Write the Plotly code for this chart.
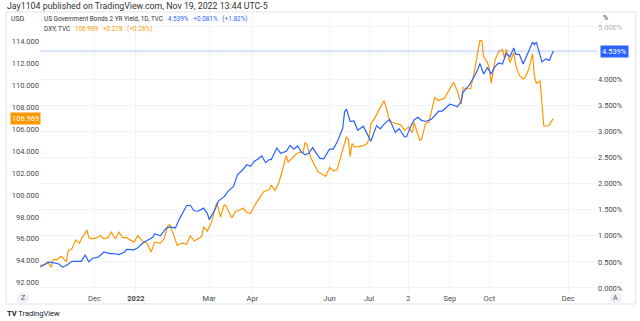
import pandas as pd
import plotly.graph_objects as go

# ---------------- data ----------------
yield_dates = [
    "2021-10-20", "2021-10-22", "2021-10-25", "2021-10-27", "2021-11-01", "2021-11-03", "2021-11-05",
    "2021-11-09", "2021-11-12", "2021-11-16", "2021-11-19", "2021-11-23", "2021-11-26", "2021-11-30",
    "2021-12-03", "2021-12-08", "2021-12-13", "2021-12-15", "2021-12-20", "2021-12-23", "2021-12-27",
    "2021-12-31", "2022-01-04", "2022-01-07", "2022-01-11", "2022-01-14", "2022-01-18", "2022-01-21",
    "2022-01-26", "2022-01-28", "2022-02-02", "2022-02-04", "2022-02-10", "2022-02-14", "2022-02-16",
    "2022-02-18", "2022-02-24", "2022-02-28", "2022-03-01", "2022-03-04", "2022-03-08", "2022-03-11",
    "2022-03-15", "2022-03-18", "2022-03-22", "2022-03-25", "2022-03-29", "2022-03-31", "2022-04-04",
    "2022-04-06", "2022-04-08", "2022-04-12", "2022-04-14", "2022-04-18", "2022-04-21", "2022-04-25",
    "2022-04-28", "2022-05-02", "2022-05-04", "2022-05-06", "2022-05-10", "2022-05-12", "2022-05-16",
    "2022-05-18", "2022-05-20", "2022-05-24", "2022-05-26", "2022-06-01", "2022-06-03", "2022-06-07",
    "2022-06-10", "2022-06-13", "2022-06-14", "2022-06-16", "2022-06-21", "2022-06-23", "2022-06-28",
    "2022-06-30", "2022-07-05", "2022-07-08", "2022-07-12", "2022-07-14", "2022-07-19", "2022-07-22",
    "2022-07-26", "2022-07-29", "2022-08-01", "2022-08-03", "2022-08-05", "2022-08-09", "2022-08-11",
    "2022-08-15", "2022-08-18", "2022-08-22", "2022-08-24", "2022-08-26", "2022-08-30", "2022-09-01",
    "2022-09-06", "2022-09-08", "2022-09-12", "2022-09-13", "2022-09-16", "2022-09-21", "2022-09-23",
    "2022-09-26", "2022-09-28", "2022-09-30", "2022-10-04", "2022-10-06", "2022-10-10", "2022-10-12",
    "2022-10-14", "2022-10-18", "2022-10-20", "2022-10-21", "2022-10-25", "2022-10-27", "2022-11-01",
    "2022-11-03", "2022-11-04", "2022-11-07", "2022-11-10", "2022-11-14", "2022-11-16", "2022-11-18",
]
yield_vals = [
    0.40, 0.45, 0.46, 0.50, 0.47, 0.46, 0.40,
    0.43, 0.51, 0.51, 0.51, 0.63, 0.50, 0.57,
    0.59, 0.69, 0.66, 0.66, 0.64, 0.69, 0.74,
    0.73, 0.77, 0.87, 0.91, 0.97, 1.04, 1.00,
    1.14, 1.17, 1.15, 1.31, 1.58, 1.58, 1.48,
    1.47, 1.53, 1.43, 1.31, 1.50, 1.67, 1.75,
    1.85, 1.95, 2.17, 2.27, 2.36, 2.33, 2.43,
    2.47, 2.53, 2.40, 2.46, 2.46, 2.68, 2.58,
    2.62, 2.73, 2.66, 2.72, 2.61, 2.55, 2.58,
    2.69, 2.58, 2.48, 2.48, 2.66, 2.66, 2.79,
    3.06, 3.37, 3.43, 3.19, 3.20, 3.02, 3.10,
    2.95, 2.81, 3.11, 3.05, 3.14, 3.23, 2.98,
    3.05, 2.89, 2.90, 3.08, 3.22, 3.27, 3.21,
    3.19, 3.23, 3.30, 3.39, 3.39, 3.46, 3.52,
    3.50, 3.47, 3.57, 3.75, 3.87, 4.05, 4.20,
    4.30, 4.10, 4.22, 4.10, 4.24, 4.31, 4.29,
    4.49, 4.43, 4.60, 4.48, 4.47, 4.29, 4.54,
    4.71, 4.66, 4.71, 4.33, 4.39, 4.36, 4.539,
]

dxy_dates = [
    "2021-10-20", "2021-10-22", "2021-10-26", "2021-10-28", "2021-10-29", "2021-11-02", "2021-11-04",
    "2021-11-05", "2021-11-09", "2021-11-10", "2021-11-12", "2021-11-16", "2021-11-18", "2021-11-19",
    "2021-11-23", "2021-11-24", "2021-11-26", "2021-11-30", "2021-12-02", "2021-12-06", "2021-12-08",
    "2021-12-10", "2021-12-14", "2021-12-16", "2021-12-20", "2021-12-22", "2021-12-27", "2021-12-31",
    "2022-01-04", "2022-01-07", "2022-01-11", "2022-01-13", "2022-01-14", "2022-01-18", "2022-01-21",
    "2022-01-25", "2022-01-27", "2022-01-28", "2022-02-01", "2022-02-03", "2022-02-04", "2022-02-08",
    "2022-02-10", "2022-02-14", "2022-02-16", "2022-02-18", "2022-02-23", "2022-02-24", "2022-02-28",
    "2022-03-02", "2022-03-04", "2022-03-07", "2022-03-09", "2022-03-11", "2022-03-14", "2022-03-17",
    "2022-03-21", "2022-03-23", "2022-03-25", "2022-03-29", "2022-03-31", "2022-04-04", "2022-04-07",
    "2022-04-11", "2022-04-14", "2022-04-18", "2022-04-20", "2022-04-22", "2022-04-26", "2022-04-28",
    "2022-04-29", "2022-05-03", "2022-05-05", "2022-05-09", "2022-05-11", "2022-05-12", "2022-05-13",
    "2022-05-17", "2022-05-19", "2022-05-23", "2022-05-26", "2022-05-27", "2022-06-01", "2022-06-03",
    "2022-06-07", "2022-06-10", "2022-06-14", "2022-06-15", "2022-06-16", "2022-06-17", "2022-06-21",
    "2022-06-23", "2022-06-28", "2022-06-30", "2022-07-01", "2022-07-05", "2022-07-07", "2022-07-12",
    "2022-07-14", "2022-07-15", "2022-07-19", "2022-07-21", "2022-07-25", "2022-07-27", "2022-07-29",
    "2022-08-02", "2022-08-04", "2022-08-05", "2022-08-10", "2022-08-11", "2022-08-15", "2022-08-17",
    "2022-08-19", "2022-08-22", "2022-08-24", "2022-08-26", "2022-08-29", "2022-09-01", "2022-09-06",
    "2022-09-08", "2022-09-12", "2022-09-13", "2022-09-15", "2022-09-19", "2022-09-21", "2022-09-23",
    "2022-09-26", "2022-09-27", "2022-09-28", "2022-09-30", "2022-10-03", "2022-10-04", "2022-10-06",
    "2022-10-10", "2022-10-12", "2022-10-13", "2022-10-14", "2022-10-18", "2022-10-20", "2022-10-21",
    "2022-10-25", "2022-10-27", "2022-10-28", "2022-11-01", "2022-11-03", "2022-11-04", "2022-11-07",
    "2022-11-09", "2022-11-10", "2022-11-11", "2022-11-15", "2022-11-16", "2022-11-17", "2022-11-18",
]
dxy_vals = [
    93.6, 93.6, 93.9, 93.4, 94.1, 94.1, 94.4,
    94.3, 93.9, 94.9, 95.1, 95.9, 95.6, 96.0,
    96.5, 96.8, 96.1, 96.0, 96.1, 96.3, 96.0,
    96.1, 96.6, 96.0, 96.6, 96.1, 96.1, 95.7,
    96.3, 95.7, 95.6, 94.8, 95.2, 95.7, 95.6,
    96.0, 97.2, 97.3, 96.4, 95.4, 95.5, 95.6,
    95.5, 96.3, 95.8, 96.0, 96.2, 97.1, 96.7,
    97.4, 98.6, 99.3, 98.0, 99.1, 99.0, 97.9,
    98.5, 98.6, 98.8, 98.4, 98.3, 99.0, 99.8,
    100.3, 100.5, 100.9, 100.4, 101.1, 102.3, 103.6,
    103.0, 103.4, 103.7, 103.9, 103.9, 104.8, 104.6,
    103.4, 102.8, 102.1, 101.8, 101.7, 102.5, 102.2,
    102.3, 104.2, 105.3, 105.1, 103.5, 104.7, 104.4,
    104.4, 104.5, 104.7, 105.1, 106.5, 107.0, 108.0,
    108.6, 108.1, 106.7, 106.6, 106.5, 106.4, 105.9,
    106.2, 105.7, 106.6, 105.0, 105.1, 106.5, 106.7,
    108.2, 108.9, 108.6, 108.8, 108.8, 109.7, 110.3,
    109.5, 108.3, 109.8, 109.7, 109.7, 111.2, 113.2,
    114.1, 114.1, 112.6, 112.1, 111.6, 110.2, 112.3,
    113.1, 113.3, 112.5, 113.3, 112.1, 113.0, 111.9,
    110.9, 110.6, 110.7, 111.5, 112.9, 110.8, 110.2,
    110.4, 108.2, 106.3, 106.3, 106.4, 106.7, 106.969,
]

holidays = ["2021-11-25", "2021-12-24", "2022-01-17", "2022-02-21", "2022-04-15",
            "2022-05-30", "2022-06-20", "2022-07-04", "2022-09-05", "2022-11-24"]

tick_dates = ["2021-12-01", "2022-01-03", "2022-03-01", "2022-04-01", "2022-06-01",
              "2022-07-01", "2022-08-02", "2022-09-01", "2022-10-03", "2022-12-01"]
tick_labels = ["Dec", "<b>2022</b>", "Mar", "Apr", "Jun", "Jul", "2", "Sep", "Oct", "Dec"]

left_ticks = [92, 94, 96, 98, 100, 102, 104, 106, 108, 110, 112, 114]
right_ticks = [0.0, 0.5, 1.0, 1.5, 2.0, 2.5, 3.0, 3.5, 4.0, 4.5, 5.0]

# ---------------- bar index (TradingView-style, trading days only) ----------------
days = pd.bdate_range("2021-10-20", "2022-12-31")
days = days[~days.isin(pd.to_datetime(holidays))]
pos = {d.strftime("%Y-%m-%d"): i for i, d in enumerate(days)}

x_yield = [pos[d] for d in yield_dates]
x_dxy = [pos[d] for d in dxy_dates]
x_ticks = [pos[d] for d in tick_dates]

BLUE = "#2962FF"
ORANGE = "#FF9800"
GRID = "#F0F3FA"
TXT = "#4a4a4a"
FONT = "Roboto"

W, H = 640, 321
L, R, T, B = 37, 43, 13, 29
PW, PH = W - L - R, H - T - B


def px(x):
    return (x - L) / PW


def py(y):
    return (H - B - y) / PH


fig = go.Figure()
fig.add_trace(go.Scatter(x=x_dxy, y=dxy_vals, mode="lines", yaxis="y",
                         line=dict(color=ORANGE, width=1.2), name="DXY"))
fig.add_trace(go.Scatter(x=x_yield, y=yield_vals, mode="lines", yaxis="y2",
                         line=dict(color=BLUE, width=1.2), name="US02Y"))

last_x = pos["2022-11-18"]
x_right = last_x + 44 / 1.89


def rlabel(v):
    if abs(v - 4.5) < 1e-9:
        return ""  # hidden behind the last-value label
    if v >= 5:
        return f"<span style='color:#b2b5be'>{v:.3f}%</span>"
    return f"{v:.3f}%"


fig.update_layout(
    width=W, height=H,
    margin=dict(l=L, r=R, t=T, b=B),
    paper_bgcolor="white", plot_bgcolor="white",
    showlegend=False,
    font=dict(family=FONT, size=8, color=TXT),
    xaxis=dict(range=[0, x_right], tickvals=x_ticks, ticktext=tick_labels,
               showgrid=True, gridcolor=GRID, gridwidth=1, zeroline=False,
               ticks="", tickfont=dict(size=7.5, color=TXT), showline=False),
    yaxis=dict(range=[91.14, 116.62], tickvals=left_ticks,
               ticktext=[f"{v:.3f}" for v in left_ticks],
               showgrid=False, zeroline=False, ticks="", side="left",
               tickfont=dict(size=7.5, color=TXT)),
    yaxis2=dict(range=[-0.077, 5.268], tickvals=right_ticks,
                ticktext=[rlabel(v) for v in right_ticks],
                overlaying="y", side="right", showgrid=True, gridcolor=GRID,
                zeroline=False, ticks="", tickfont=dict(size=7.5, color=TXT)),
)

shapes = []
shapes.append(dict(type="rect", xref="paper", yref="paper",
                   x0=px(3), x1=px(636), y0=py(12), y1=py(304),
                   line=dict(color="#E0E3EB", width=1), fillcolor="rgba(0,0,0,0)", layer="below"))
shapes.append(dict(type="line", xref="paper", yref="y2", x0=0, x1=1,
                   y0=yield_vals[-1], y1=yield_vals[-1],
                   line=dict(color="rgba(41,98,255,0.35)", width=1)))
for cx in (20, 616):
    shapes.append(dict(type="circle", xref="paper", yref="paper",
                       x0=px(cx - 6), x1=px(cx + 6), y0=py(304), y1=py(292),
                       line=dict(width=0), fillcolor="#EEF0F5"))
fig.update_layout(shapes=shapes)

ann = []


def text(x, y, s, size=6.4, color=TXT, xanchor="left"):
    ann.append(dict(xref="paper", yref="paper", x=px(x), y=py(y), text=s,
                    showarrow=False, xanchor=xanchor, yanchor="middle",
                    font=dict(size=size, color=color, family=FONT)))


SP = "&nbsp;&nbsp;&nbsp;"
text(2, 5.5, "Jay1104 published on TradingView.com, Nov 19, 2022 13:44 UTC-5", size=8.8, color="#333")
text(6, 19, "USD", size=7, color="#333")
text(601, 18, "%", size=7, color="#333")
text(39, 19, "US Government Bonds 2 YR Yield, 1D, TVC" + SP +
     f"<span style='color:{BLUE}'>4.539%{SP}+0.081%{SP}(+1.82%)</span>", color="#333")
text(39, 28.5, "DXY, TVC" + SP +
     f"<span style='color:{ORANGE}'>106.969{SP}+0.278{SP}(+0.26%)</span>", color="#333")
text(20, 298, "Z", size=7, color="#555", xanchor="center")
text(616, 298, "A", size=7, color="#555", xanchor="center")
text(2, 313, "<b>TV</b> TradingView", size=7.5, color="#131722")

ann.append(dict(xref="paper", yref="y", x=0, y=dxy_vals[-1], text="106.969",
                showarrow=False, xanchor="right", yanchor="middle", xshift=1,
                bgcolor=ORANGE, borderpad=1, font=dict(size=7.5, color="white", family=FONT)))
ann.append(dict(xref="paper", yref="y2", x=1, y=yield_vals[-1], text="4.539%",
                showarrow=False, xanchor="left", yanchor="middle", xshift=3,
                bgcolor=BLUE, borderpad=1, font=dict(size=7.5, color="white", family=FONT)))
fig.update_layout(annotations=ann)

fig.write_html("out.html")
